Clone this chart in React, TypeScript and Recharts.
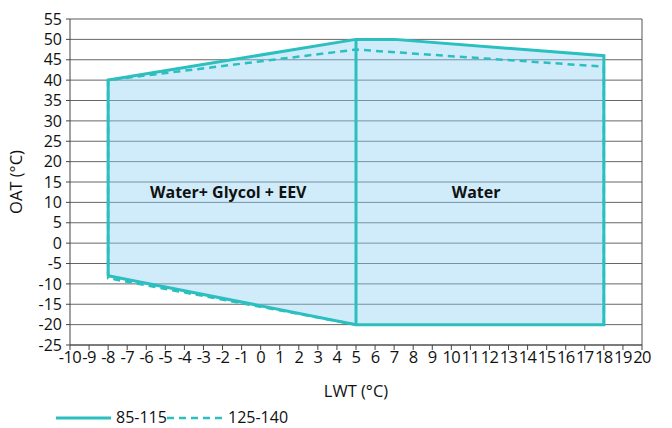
import React from 'react';
import {
  ComposedChart, Area, Line, XAxis, YAxis, CartesianGrid, ReferenceLine, ReferenceDot, Legend,
} from 'recharts';

// Envelope fill (85-115): lower and upper limits of OAT for each LWT
const fillLwt = [-8, 5, 7, 18];
const fillLow = [-8, -20, -20, -20];
const fillHigh = [40, 50, 50, 46];

// Solid outline 85-115 (closed polygon path)
const solidLwt = [-8, -8, 5, 7, 18, 18, 5, -8];
const solidOat = [-8, 40, 50, 50, 46, -20, -20, -8];

// Divider between Water+Glycol and Water zones
const dividerLwt = [5, 5];
const dividerOat = [-20, 50];

// Dashed outline 125-140
const dashedLwt = [5, -8, -8, 5, 18, 18];
const dashedOat = [-20, -8.6, 40, 47.5, 43.3, -20];

const xTicks = Array.from({ length: 31 }, (_, i) => i - 10);
const yTicks = [-25, -20, -15, -10, -5, 0, 5, 10, 15, 20, 25, 30, 35, 40, 45, 50, 55];

const zoneLabels = ['Water+ Glycol + EEV', 'Water'];
const zoneLabelX = [-1.7, 11.3];
const zoneLabelY = [12.5, 12.5];

const seriesNames = ['85-115', '125-140'];

const fillData = fillLwt.map((x, i) => ({ x, range: [fillLow[i], fillHigh[i]] }));
const solidData = solidLwt.map((x, i) => ({ x, y: solidOat[i] }));
const dividerData = dividerLwt.map((x, i) => ({ x, y: dividerOat[i] }));
const dashedData = dashedLwt.map((x, i) => ({ x, y: dashedOat[i] }));

const TEAL = '#2BBFBF';
const FONT = '"Open Sans", "Noto Sans", sans-serif';

const LegendContent = () => (
  <div style={{ position: 'relative', height: 31, fontFamily: FONT }}>
    <svg width={672} height={31} style={{ position: 'absolute', left: 0, top: 0 }}>
      <line x1={56} x2={111} y1={21} y2={21} stroke={TEAL} strokeWidth={3} />
      <text x={116} y={26} fontSize={16} fontFamily={FONT} fill="#111">{seriesNames[0]}</text>
      <line x1={167} x2={222} y1={21} y2={21} stroke={TEAL} strokeWidth={2.5} strokeDasharray="7 5" />
      <text x={228} y={26} fontSize={16} fontFamily={FONT} fill="#111">{seriesNames[1]}</text>
    </svg>
  </div>
);

export default function App() {
  return (
    <div style={{ position: 'absolute', left: 0, top: 0, background: '#fff' }}>
      <ComposedChart
        width={672}
        height={428}
        margin={{ top: 19, right: 30, left: 0, bottom: 0 }}
        style={{ fontFamily: FONT }}
      >
        <CartesianGrid horizontal vertical={false} stroke="#666" strokeWidth={1} />
        <XAxis
          type="number"
          dataKey="x"
          domain={[-10, 20]}
          ticks={xTicks}
          interval={0}
          allowDataOverflow
          height={52}
          stroke="#444"
          tickSize={5}
          tickMargin={1}
          tick={{ fill: '#111', fontSize: 16.5, fontFamily: FONT, letterSpacing: -0.6 }}
          label={{ value: 'LWT (°C)', position: 'insideBottom', offset: 0, fill: '#111', fontSize: 16.5, fontFamily: FONT }}
        />
        <YAxis
          type="number"
          domain={[-25, 55]}
          ticks={yTicks}
          interval={0}
          allowDataOverflow
          width={70}
          stroke="#444"
          tickSize={4}
          tickMargin={4}
          tick={{ fill: '#111', fontSize: 16, fontFamily: FONT }}
          label={{ value: 'OAT (°C)', angle: -90, position: 'insideLeft', offset: 16, fill: '#111', fontSize: 16.5, fontFamily: FONT, style: { textAnchor: 'middle' } }}
        />
        <Area
          data={fillData}
          dataKey="range"
          type="linear"
          stroke="none"
          fill="#8FD2F4"
          fillOpacity={0.42}
          isAnimationActive={false}
          legendType="none"
        />
        <ReferenceLine y={55} stroke="#aaa" strokeWidth={1.5} />
        <ReferenceLine x={20} stroke="#555" strokeWidth={1} />
        <Line
          data={dashedData}
          dataKey="y"
          type="linear"
          stroke={TEAL}
          strokeWidth={2.5}
          strokeDasharray="7 5"
          dot={false}
          activeDot={false}
          isAnimationActive={false}
          name={seriesNames[1]}
        />
        <Line
          data={solidData}
          dataKey="y"
          type="linear"
          stroke={TEAL}
          strokeWidth={3}
          dot={false}
          activeDot={false}
          isAnimationActive={false}
          name={seriesNames[0]}
        />
        <Line
          data={dividerData}
          dataKey="y"
          type="linear"
          stroke={TEAL}
          strokeWidth={3}
          dot={false}
          activeDot={false}
          isAnimationActive={false}
          legendType="none"
        />
        {zoneLabels.map((t, i) => (
          <ReferenceDot
            key={t}
            x={zoneLabelX[i]}
            y={zoneLabelY[i]}
            r={0}
            stroke="none"
            label={{ value: t, position: 'center', fill: '#111', fontSize: 16, fontWeight: 'bold', fontFamily: FONT }}
          />
        ))}
        <Legend verticalAlign="bottom" height={31} content={<LegendContent />} />
      </ComposedChart>
    </div>
  );
}
